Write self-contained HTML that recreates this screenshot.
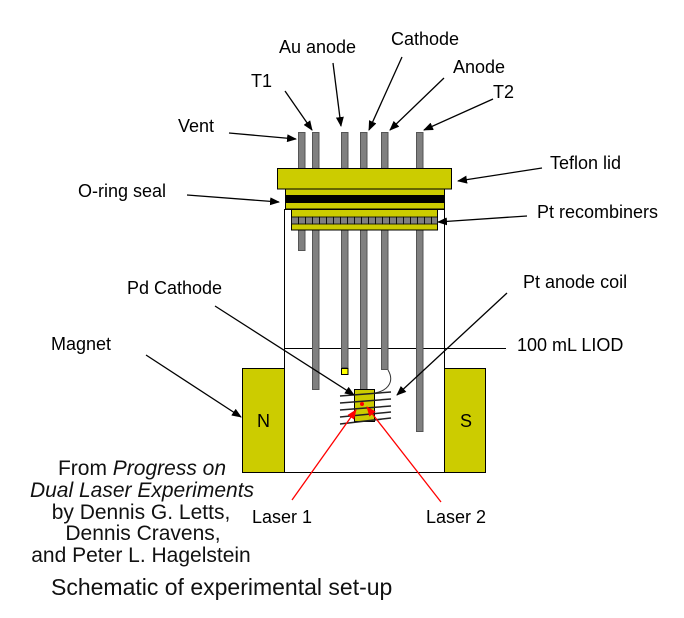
<!DOCTYPE html>
<html><head><meta charset="utf-8"><style>
html,body{margin:0;padding:0;background:#fff;}
svg{display:block;}
.c{font-family:"Liberation Sans",Arial,sans-serif;font-size:18px;fill:#000;}
.a{font-family:"Liberation Sans",Arial,sans-serif;font-size:21px;fill:#111;}
</style></head><body>
<svg width="684" height="618" viewBox="0 0 684 618" xmlns="http://www.w3.org/2000/svg">
<defs>
<marker id="ah" markerWidth="10" markerHeight="8" refX="9" refY="4" orient="auto" markerUnits="userSpaceOnUse"><path d="M0,0 L10,4 L0,8 z" fill="#000"/></marker>
<marker id="rh" markerWidth="10" markerHeight="8" refX="9" refY="4" orient="auto" markerUnits="userSpaceOnUse"><path d="M0,0 L10,4 L0,8 z" fill="#f00"/></marker>
</defs>
<rect width="684" height="618" fill="#fff"/>

<!-- container -->
<rect x="284.5" y="209.5" width="160" height="263" fill="#fff" stroke="#000" stroke-width="1"/>
<line x1="284" y1="348.5" x2="506" y2="348.5" stroke="#000" stroke-width="1"/>

<!-- magnets -->
<rect x="242.5" y="368.5" width="42" height="104" fill="#cccc00" stroke="#000" stroke-width="1"/>
<rect x="444.5" y="368.5" width="41" height="104" fill="#cccc00" stroke="#000" stroke-width="1"/>
<text class="c" x="257" y="427">N</text>
<text class="c" x="460" y="427">S</text>

<!-- rods -->
<g fill="#808080" stroke="#555" stroke-width="1">
<rect x="298.5" y="132.5" width="6.5" height="118"/>
<rect x="312.5" y="132.5" width="6.5" height="257"/>
<rect x="341.5" y="132.5" width="6.5" height="235"/>
<rect x="360.5" y="132.5" width="6.5" height="257"/>
<rect x="381.5" y="132.5" width="6.5" height="237"/>
<rect x="416.5" y="132.5" width="6.5" height="299"/>
</g>
<rect x="341.5" y="368.5" width="6.5" height="6" fill="#ffff00" stroke="#000" stroke-width="1"/>

<!-- lid -->
<rect x="277.5" y="168.5" width="174" height="20.5" fill="#cccc00" stroke="#000" stroke-width="1"/>
<rect x="285.5" y="189" width="159" height="20" fill="#cccc00" stroke="#000" stroke-width="1"/>
<rect x="285.5" y="195" width="159" height="8" fill="#000"/>
<!-- recombiners -->
<rect x="291.5" y="209.5" width="146" height="20.5" fill="#cccc00" stroke="#000" stroke-width="1"/>
<g fill="#808080" stroke="#000" stroke-width="0.8">
<rect x="291.5" y="217" width="7" height="7"/><rect x="298.5" y="217" width="7" height="7"/><rect x="305.5" y="217" width="7" height="7"/><rect x="312.5" y="217" width="7" height="7"/><rect x="319.5" y="217" width="7" height="7"/><rect x="326.5" y="217" width="7" height="7"/><rect x="333.5" y="217" width="7" height="7"/><rect x="340.5" y="217" width="7" height="7"/><rect x="347.5" y="217" width="7" height="7"/><rect x="354.5" y="217" width="7" height="7"/><rect x="361.5" y="217" width="7" height="7"/><rect x="368.5" y="217" width="7" height="7"/><rect x="375.5" y="217" width="7" height="7"/><rect x="382.5" y="217" width="7" height="7"/><rect x="389.5" y="217" width="7" height="7"/><rect x="396.5" y="217" width="7" height="7"/><rect x="403.5" y="217" width="7" height="7"/><rect x="410.5" y="217" width="7" height="7"/><rect x="417.5" y="217" width="7" height="7"/><rect x="424.5" y="217" width="7" height="7"/><rect x="431.5" y="217" width="6" height="7"/>
</g>

<!-- cathode -->
<rect x="354.5" y="389.5" width="20" height="32" fill="#cccc00" stroke="#000" stroke-width="1"/>
<path d="M388,370 C394,380 390,390 375,393" fill="none" stroke="#333" stroke-width="1"/>
<g stroke="#222" stroke-width="1.5">
<line x1="340" y1="396" x2="391" y2="392"/>
<line x1="340" y1="403" x2="391" y2="399"/>
<line x1="340" y1="410" x2="391" y2="406"/>
<line x1="340" y1="417" x2="391" y2="412"/>
<line x1="340" y1="424" x2="391" y2="418"/>
</g>
<circle cx="362" cy="404" r="2" fill="#f00"/>

<!-- lasers -->
<line x1="292" y1="500" x2="356" y2="410" stroke="#f00" stroke-width="1.3" marker-end="url(#rh)"/>
<line x1="441" y1="502" x2="367" y2="407" stroke="#f00" stroke-width="1.3" marker-end="url(#rh)"/>

<!-- arrows -->
<g stroke="#000" stroke-width="1.3" fill="none" marker-end="url(#ah)">
<line x1="229" y1="133" x2="296" y2="139"/>
<line x1="285" y1="91" x2="312" y2="130"/>
<line x1="333" y1="63" x2="341" y2="126"/>
<line x1="402" y1="57" x2="369" y2="130"/>
<line x1="444" y1="78" x2="390" y2="130"/>
<line x1="493" y1="99" x2="424" y2="130"/>
<line x1="542" y1="168" x2="458" y2="181"/>
<line x1="527" y1="216" x2="438" y2="222"/>
<line x1="187" y1="195" x2="279" y2="202"/>
<line x1="215" y1="306" x2="354" y2="395"/>
<line x1="146" y1="355" x2="241" y2="417"/>
<line x1="507" y1="293" x2="397" y2="395"/>
</g>

<!-- labels -->
<text class="c" x="178" y="132">Vent</text>
<text class="c" x="251" y="87">T1</text>
<text class="c" x="279" y="53">Au anode</text>
<text class="c" x="391" y="45">Cathode</text>
<text class="c" x="453" y="73">Anode</text>
<text class="c" x="493" y="98">T2</text>
<text class="c" x="550" y="169">Teflon lid</text>
<text class="c" x="537" y="218">Pt recombiners</text>
<text class="c" x="78" y="197">O-ring seal</text>
<text class="c" x="523" y="288">Pt anode coil</text>
<text class="c" x="127" y="294">Pd Cathode</text>
<text class="c" x="517" y="351">100 mL LIOD</text>
<text class="c" x="51" y="350">Magnet</text>
<text class="c" x="252" y="523">Laser 1</text>
<text class="c" x="426" y="523">Laser 2</text>

<g class="a" text-anchor="middle">
<text class="a" x="142" y="475" text-anchor="middle">From <tspan font-style="italic">Progress on</tspan></text>
<text class="a" x="142" y="497" text-anchor="middle" font-style="italic">Dual Laser Experiments</text>
<text class="a" x="141" y="519" text-anchor="middle">by Dennis G. Letts,</text>
<text class="a" x="143" y="540" text-anchor="middle">Dennis Cravens,</text>
<text class="a" x="141" y="562" text-anchor="middle">and Peter L. Hagelstein</text>
</g>
<text x="51" y="595" style="font-family:'Liberation Sans',Arial,sans-serif;font-size:23px;fill:#111;">Schematic of experimental set-up</text>
</svg>
</body></html>
